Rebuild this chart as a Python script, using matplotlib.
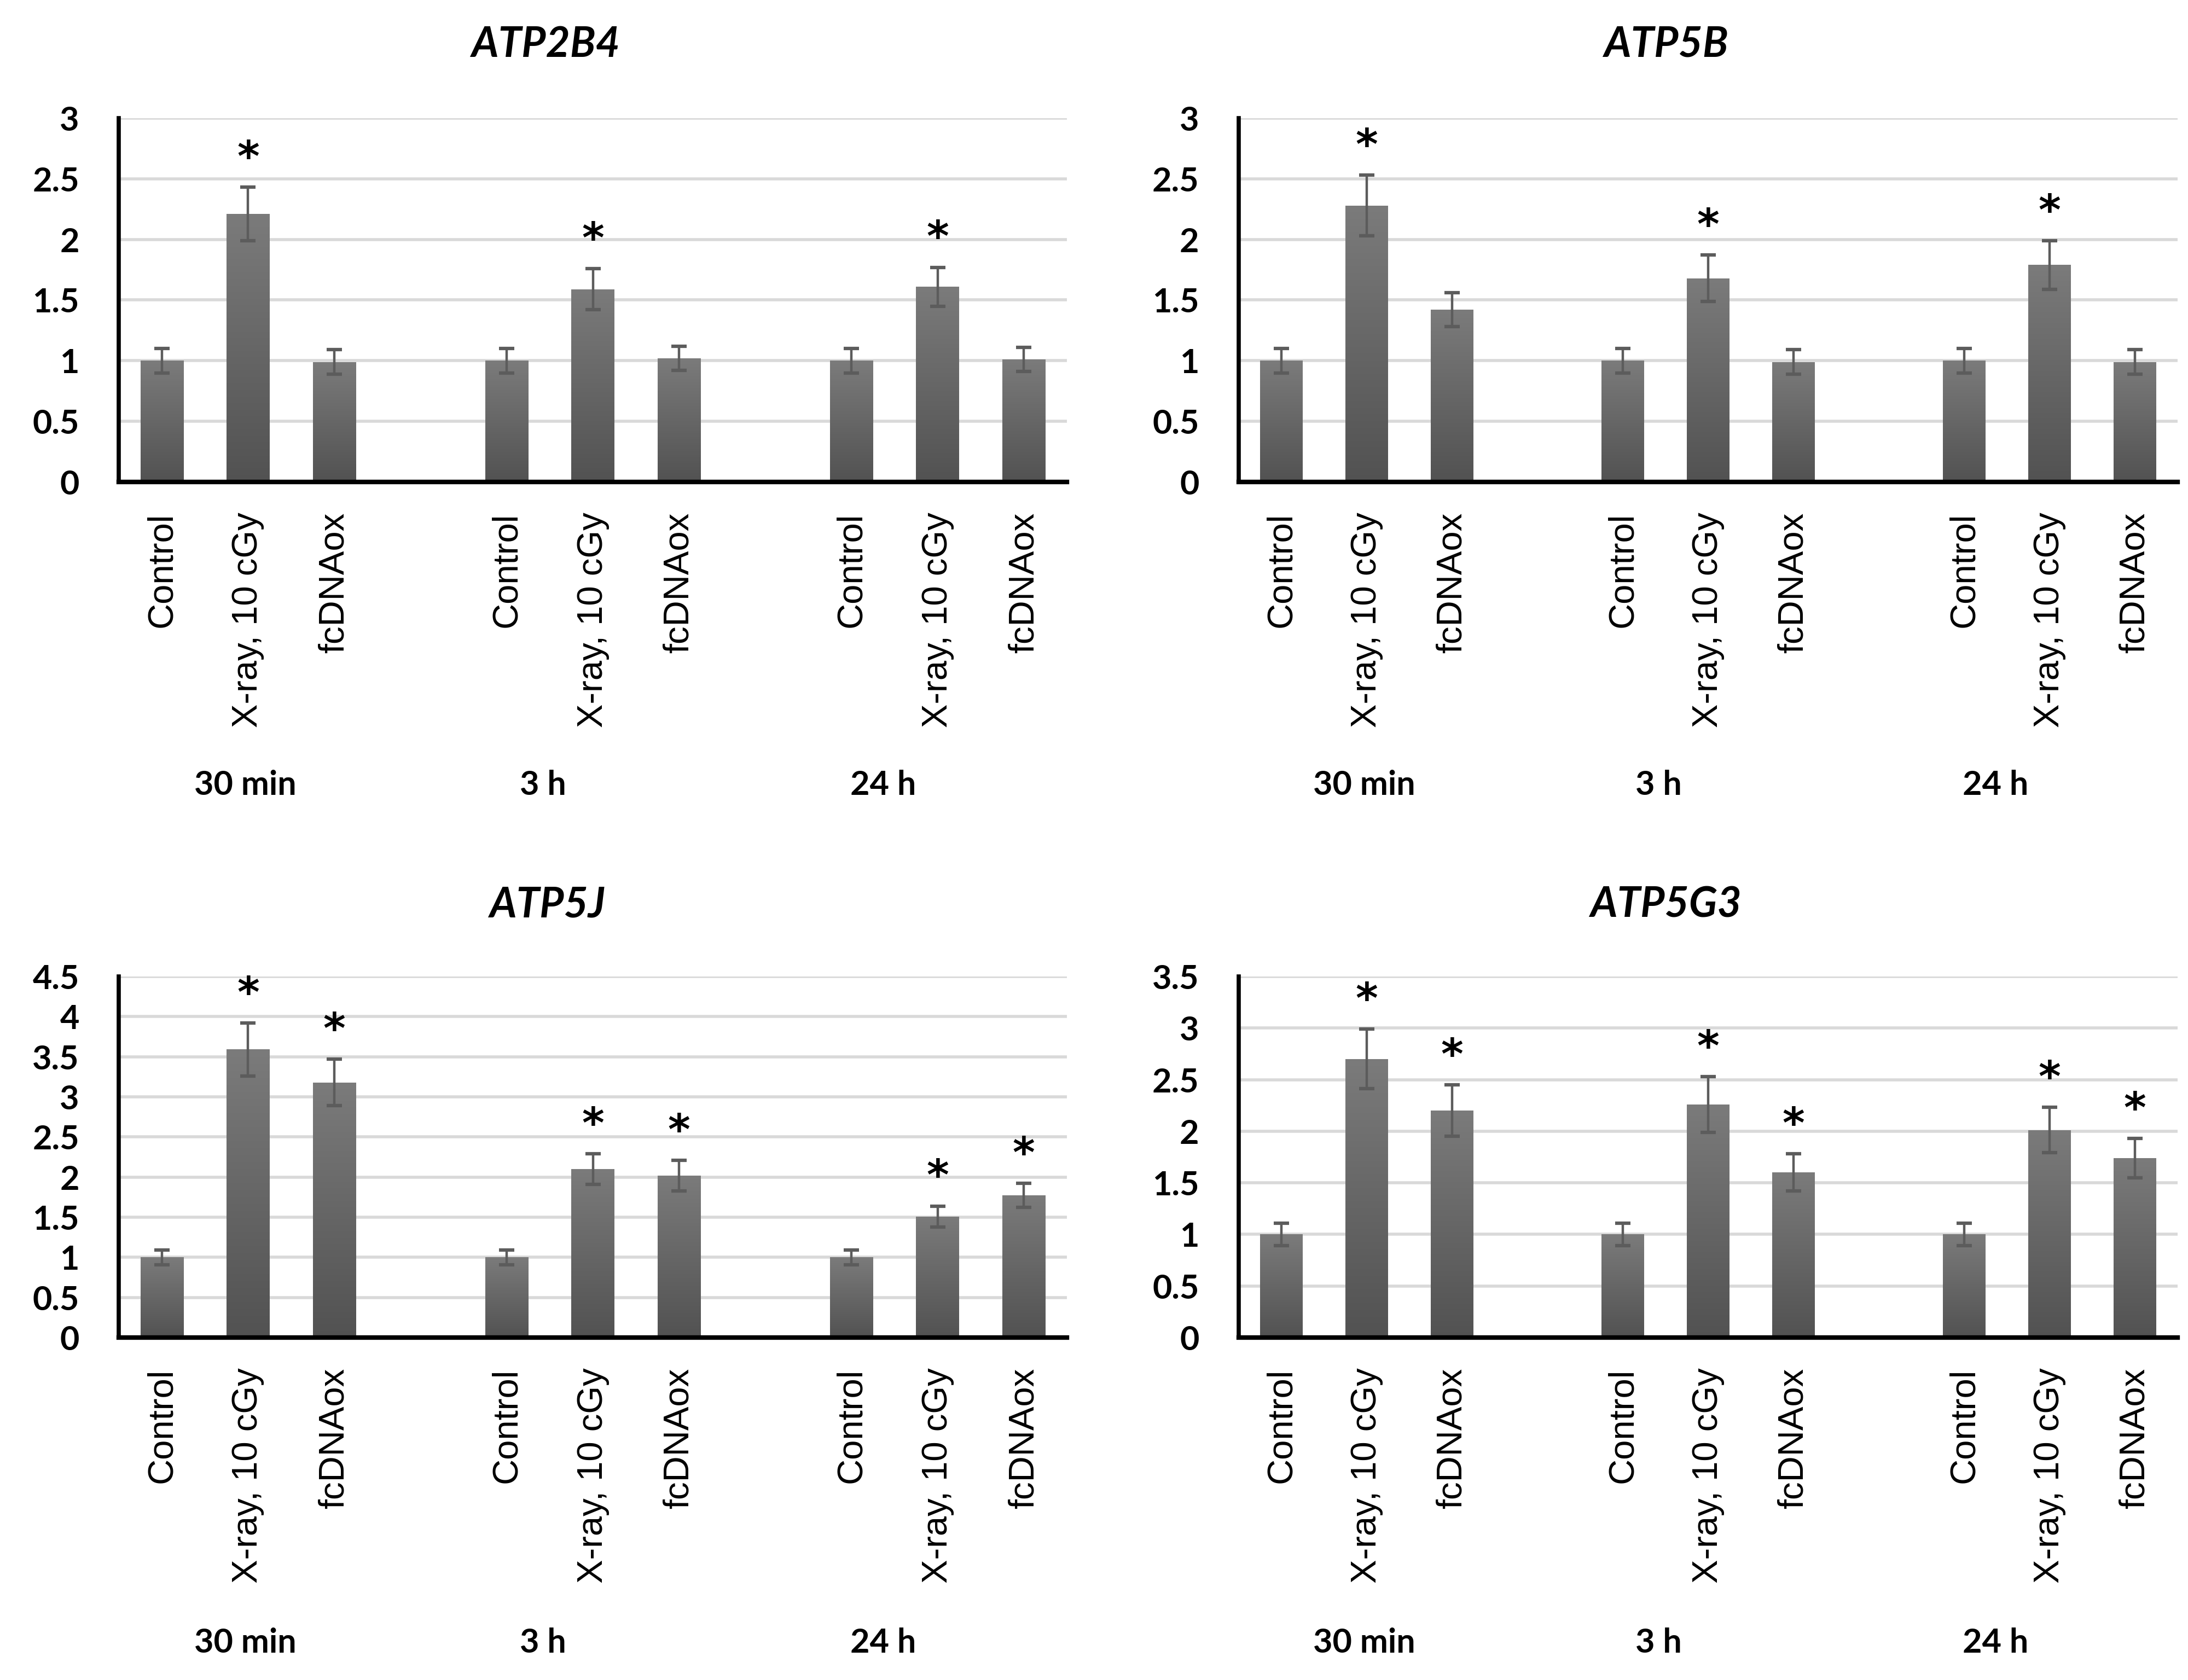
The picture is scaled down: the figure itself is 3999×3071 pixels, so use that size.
import numpy as np
import matplotlib
matplotlib.use('Agg')
import matplotlib.pyplot as plt
from matplotlib import transforms
from matplotlib.colors import LinearSegmentedColormap

# data
genes = ['ATP2B4', 'ATP5B', 'ATP5J', 'ATP5G3']
categories = ['Control', 'X-ray, 10 cGy', 'fcDNAox']
timepoints = ['30 min', '3 h', '24 h']

atp2b4_mean = [1.00, 2.21, 0.99, 1.00, 1.59, 1.02, 1.00, 1.61, 1.01]
atp2b4_err = [0.10, 0.22, 0.10, 0.10, 0.17, 0.10, 0.10, 0.16, 0.10]
atp2b4_sig = [0, 1, 0, 0, 1, 0, 0, 1, 0]

atp5b_mean = [1.00, 2.28, 1.42, 1.00, 1.68, 0.99, 1.00, 1.79, 0.99]
atp5b_err = [0.10, 0.25, 0.14, 0.10, 0.19, 0.10, 0.10, 0.20, 0.10]
atp5b_sig = [0, 1, 0, 0, 1, 0, 0, 1, 0]

atp5j_mean = [1.00, 3.59, 3.18, 1.00, 2.10, 2.02, 1.00, 1.51, 1.77]
atp5j_err = [0.09, 0.33, 0.29, 0.09, 0.19, 0.19, 0.09, 0.13, 0.15]
atp5j_sig = [0, 1, 1, 0, 1, 1, 0, 1, 1]

atp5g3_mean = [1.00, 2.70, 2.20, 1.00, 2.26, 1.60, 1.00, 2.01, 1.74]
atp5g3_err = [0.11, 0.29, 0.25, 0.11, 0.27, 0.18, 0.11, 0.22, 0.19]
atp5g3_sig = [0, 1, 1, 0, 1, 1, 0, 1, 1]

y_max = [3, 3, 4.5, 3.5]

NUM_FONT = 'Lato'
CAT_FONT = 'Liberation Sans'
STAR_FONT = 'DejaVu Sans'

bar_cmap = LinearSegmentedColormap.from_list('bar', ['#525252', '#7b7b7b'])
gradient = np.linspace(0, 1, 256).reshape(-1, 1)


def bar_positions():
    # three bars per time point, one empty slot between groups
    pos = []
    for g in range(len(timepoints)):
        for c in range(len(categories)):
            pos.append(g * (len(categories) + 1) + c)
    return pos


def draw_panel(fig, rect, gene, means, errs, sig, top, title_xy, group_y):
    ax = fig.add_axes(rect)
    x = bar_positions()

    bars = ax.bar(x, means, width=0.5, color='#666666', zorder=2)
    # vertical gradient on every bar
    for patch in bars:
        x0 = patch.get_x()
        im = ax.imshow(gradient, extent=(x0, x0 + patch.get_width(), 0, patch.get_height()),
                       origin='lower', cmap=bar_cmap, aspect='auto', zorder=2.5)
        im.set_clip_path(patch)

    ax.errorbar(x, means, yerr=errs, fmt='none', ecolor='#5c5c5c',
                elinewidth=3.2, capsize=10, capthick=4.5, zorder=3)

    for xi, m, e, s in zip(x, means, errs, sig):
        if s:
            ax.annotate('*', (xi, m + e), xytext=(0, 21), textcoords='offset points',
                        ha='center', va='baseline', fontsize=56, fontweight='bold',
                        family=STAR_FONT, zorder=4)

    ax.set_xlim(-0.5, 10.5)
    ax.set_ylim(0, top)
    ax.set_aspect('auto')

    ticks = np.arange(0, top + 0.01, 0.5)
    ax.set_yticks(ticks)
    ax.set_yticklabels([f'{t:g}' for t in ticks], fontsize=44, fontweight='bold', family=NUM_FONT)
    ax.set_xticks(x)
    ax.set_xticklabels(categories * len(timepoints), rotation=90, fontsize=47, family=CAT_FONT)
    ax.tick_params(axis='y', length=0, pad=52)
    ax.tick_params(axis='x', length=0, pad=40)

    ax.yaxis.grid(True, color='#d9d9d9', linewidth=4)
    ax.set_axisbelow(True)
    for side in ('top', 'right'):
        ax.spines[side].set_visible(False)
    ax.spines['left'].set_linewidth(5.5)
    ax.spines['bottom'].set_linewidth(6)
    ax.spines['left'].set_zorder(5)
    ax.spines['bottom'].set_zorder(5)

    fig.text(title_xy[0], title_xy[1], gene, ha='center', va='center', fontsize=55,
             fontweight='bold', fontstyle='italic', family=NUM_FONT)

    # time point labels under each group
    trans = transforms.blended_transform_factory(ax.transData, fig.transFigure)
    for gx, label in zip([0.97, 4.42, 8.37], timepoints):
        ax.text(gx, group_y, label, transform=trans, ha='center', va='center',
                fontsize=44, fontweight='bold', family=NUM_FONT)
    return ax


fig = plt.figure(figsize=(39.99, 30.71), dpi=100)

draw_panel(fig, [0.0543, 0.7131, 0.4333, 0.2166], genes[0],
           atp2b4_mean, atp2b4_err, atp2b4_sig, y_max[0], (0.2493, 0.9733), 0.5327)
draw_panel(fig, [0.5661, 0.7131, 0.4291, 0.2166], genes[1],
           atp5b_mean, atp5b_err, atp5b_sig, y_max[1], (0.7614, 0.9733), 0.5327)
draw_panel(fig, [0.0543, 0.2038, 0.4333, 0.2150], genes[2],
           atp5j_mean, atp5j_err, atp5j_sig, y_max[2], (0.2500, 0.4611), 0.0221)
draw_panel(fig, [0.5661, 0.2038, 0.4291, 0.2150], genes[3],
           atp5g3_mean, atp5g3_err, atp5g3_sig, y_max[3], (0.7614, 0.4611), 0.0221)

fig.savefig('out.png', dpi=100, facecolor='white')
